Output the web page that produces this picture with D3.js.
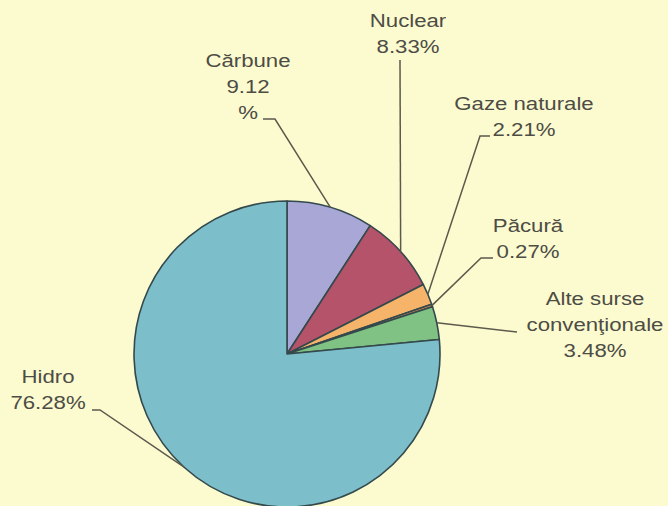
<!DOCTYPE html>
<html>
<head>
<meta charset="utf-8">
<script src="https://cdn.jsdelivr.net/npm/d3@7"></script>
<style>
  html, body { margin: 0; padding: 0; background: #fcfbd0; }
  svg { display: block; }
</style>
</head>
<body>
<div id="chart"></div>
<script>
var width = 668, height = 506;

// data
var sources = ["Cărbune", "Nuclear", "Gaze naturale", "Păcură", "Alte surse convenţionale", "Hidro"];
var shares = [9.12, 8.33, 2.21, 0.27, 3.48, 76.28];
var labelLines = [
  ["Cărbune", "9.12", "%"],
  ["Nuclear", "8.33%"],
  ["Gaze naturale", "2.21%"],
  ["Păcură", "0.27%"],
  ["Alte surse", "convenţionale", "3.48%"],
  ["Hidro", "76.28%"]
];
var colors = ["#a8a7d6", "#b5536b", "#f6b46b", "#c98a52", "#80c184", "#7cbfcb"];

// label layout: text centre x, first baseline y, leader points before reaching the arc
var labelPos = [
  {x: 248, y: 67, leader: [[263, 119], [275, 119]]},
  {x: 408, y: 27, leader: [[400, 60]]},
  {x: 524, y: 110, leader: [[490, 136], [480, 136]]},
  {x: 528, y: 232, leader: [[493, 258], [481, 258]]},
  {x: 595, y: 305, leader: [[517, 332]]},
  {x: 48, y: 383, leader: [[92, 410], [100, 410]]}
];

var cx = 287, cy = 354, r = 153;

var svg = d3.select("#chart")
  .append("svg")
    .attr("width", width)
    .attr("height", height);

svg.append("rect")
  .attr("width", width)
  .attr("height", height)
  .attr("fill", "#fcfbd0");

var pie = d3.pie().sort(null).value(function(d) { return d; });
var arcs = pie(shares);
var arc = d3.arc().innerRadius(0).outerRadius(r);

var g = svg.append("g")
  .attr("transform", "translate(" + cx + "," + cy + ")");

g.selectAll("path")
  .data(arcs)
  .enter().append("path")
    .attr("d", arc)
    .attr("fill", function(d, i) { return colors[i]; })
    .attr("stroke", "#34494c")
    .attr("stroke-width", 1.6)
    .attr("stroke-linejoin", "round");

// leaders
arcs.forEach(function(a, i) {
  var mid = (a.startAngle + a.endAngle) / 2;
  var end = [cx + r * Math.sin(mid), cy - r * Math.cos(mid)];
  var pts = labelPos[i].leader.concat([end]);
  svg.append("path")
    .attr("d", d3.line()(pts))
    .attr("fill", "none")
    .attr("stroke", "#5b5a4c")
    .attr("stroke-width", 1.5);
});

// labels
labelLines.forEach(function(lines, i) {
  var p = labelPos[i];
  var t = svg.append("g")
    .attr("transform", "translate(" + p.x + "," + p.y + ") scale(1.2,1)");
  lines.forEach(function(s, k) {
    t.append("text")
      .attr("x", 0)
      .attr("y", k * 26)
      .attr("text-anchor", "middle")
      .attr("font-family", "Liberation Sans, Arial, sans-serif")
      .attr("font-size", 18.5)
      .attr("fill", "#4d4c45")
      .text(s);
  });
});
</script>
</body>
</html>
